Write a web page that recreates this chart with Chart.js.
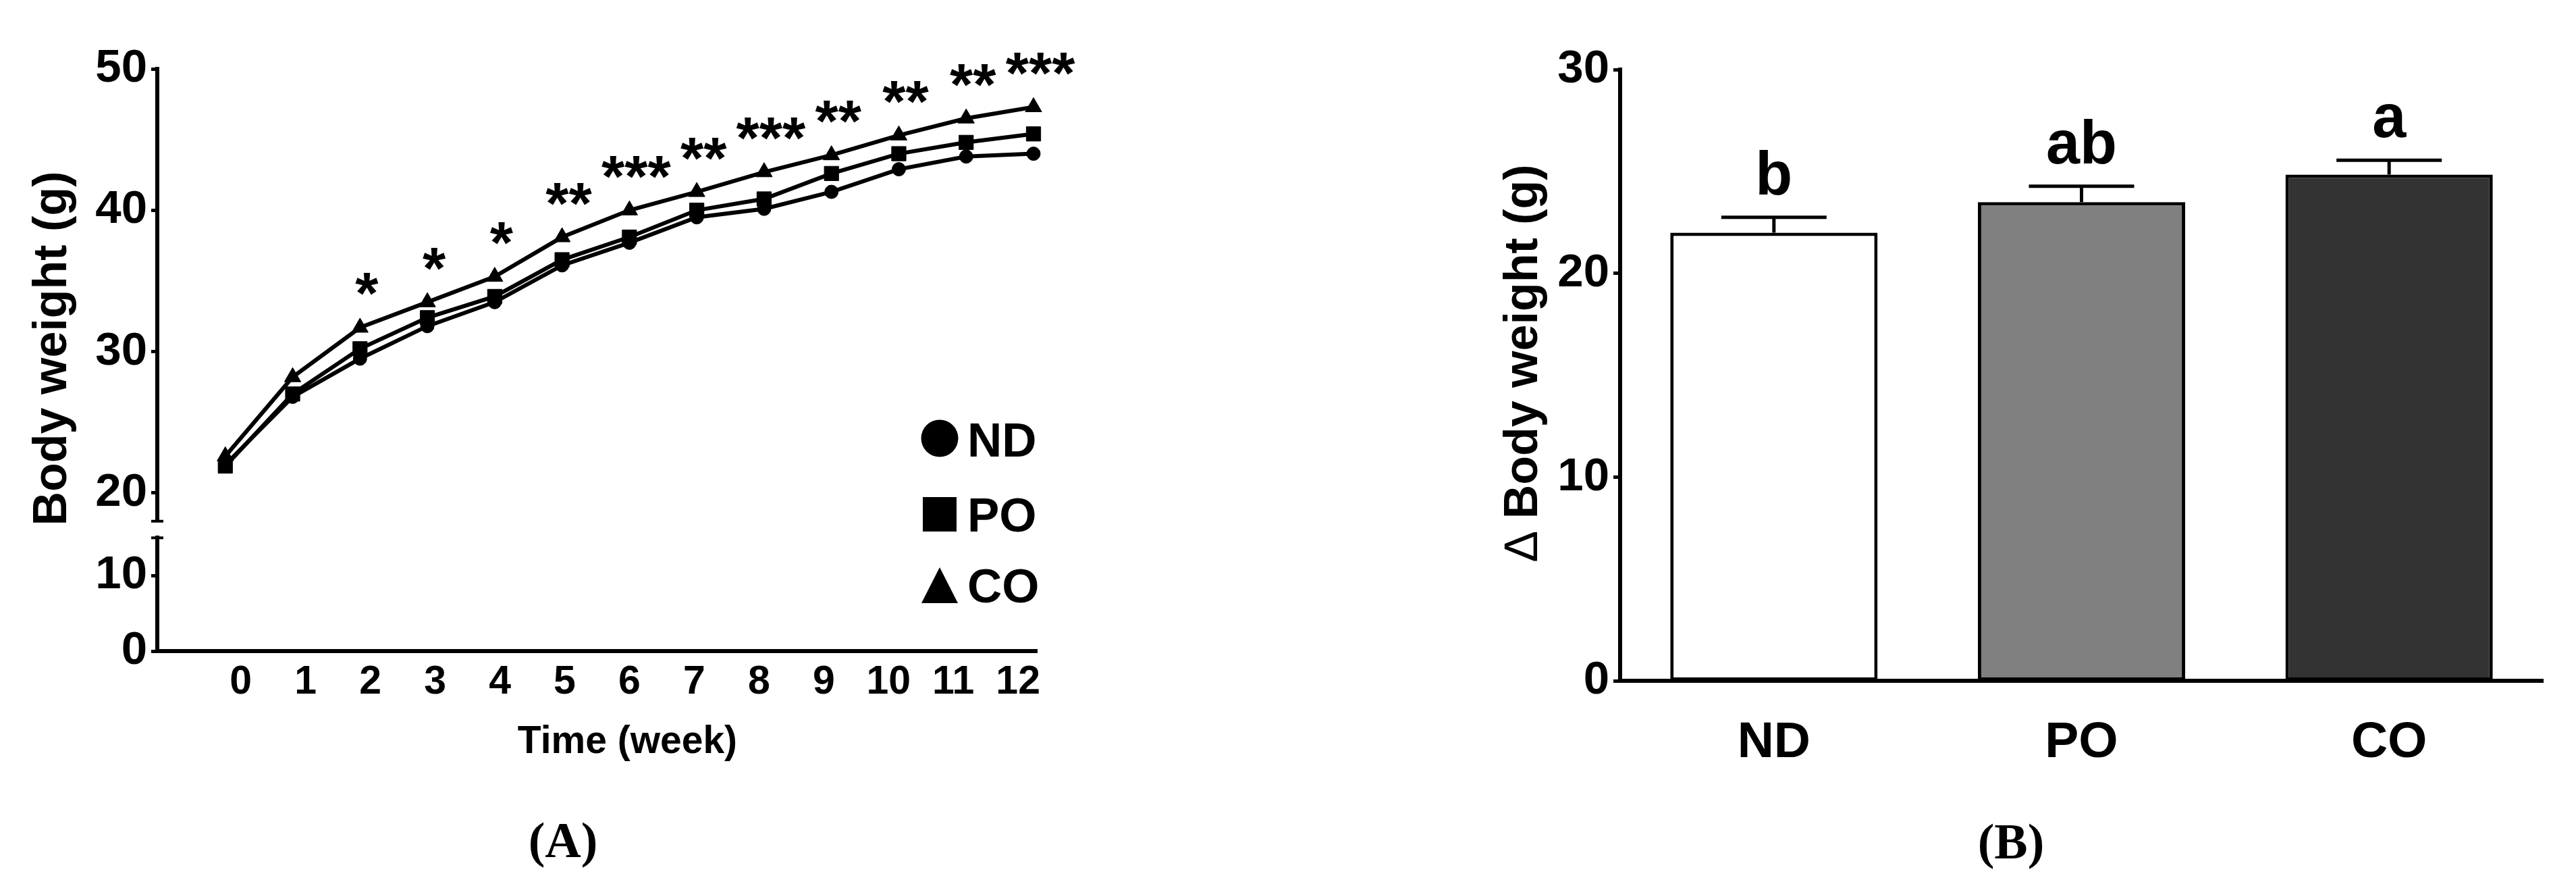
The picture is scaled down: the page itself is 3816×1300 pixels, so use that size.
<!DOCTYPE html>
<html>
<head>
<meta charset="utf-8">
<script src="https://cdn.jsdelivr.net/npm/chart.js@4.4.0/dist/chart.umd.min.js"></script>
<style>
  html, body { margin: 0; padding: 0; background: #fff; }
  body { width: 3816px; height: 1300px; position: relative; overflow: hidden; }
  canvas { position: absolute; top: 0; }
  #chartA { left: 0; }
  #chartB { left: 1900px; }
  .panel {
    position: absolute; width: 300px; text-align: center;
    font: bold 74px "Liberation Serif", "Times New Roman", serif; line-height: 74px;
  }
</style>
</head>
<body>
<canvas id="chartA" width="1680" height="1300" style="width:1680px;height:1300px"></canvas>
<canvas id="chartB" width="1916" height="1300" style="width:1916px;height:1300px"></canvas>
<div class="panel" style="left:684px;top:1207px">(A)</div>
<div class="panel" style="left:2829px;top:1209px">(B)</div>
<script>
const FONT = '"Liberation Sans", Arial, Helvetica, sans-serif';

// panel A: body weight per week
const weeks = [0, 1, 2, 3, 4, 5, 6, 7, 8, 9, 10, 11, 12];
const ndWeight = [22.0, 26.8, 29.5, 31.8, 33.5, 36.1, 37.7, 39.5, 40.1, 41.3, 42.9, 43.8, 44.0];
const poWeight = [21.9, 27.0, 30.2, 32.4, 33.9, 36.5, 38.1, 40.0, 40.8, 42.6, 44.0, 44.8, 45.4];
const coWeight = [22.6, 28.2, 31.7, 33.5, 35.3, 38.1, 40.0, 41.3, 42.7, 43.9, 45.3, 46.5, 47.3];
const sigMarks = ['', '', '*', '*', '*', '**', '***', '**', '***', '**', '**', '**', '***'];
const weightTicksHigh = [20, 30, 40, 50];
const weightTicksLow = [0, 10];

// panel B: body weight gain
const groups = ['ND', 'PO', 'CO'];
const gainMean = [22.0, 23.5, 24.85];
const gainSem = [0.75, 0.78, 0.7];
const gainLetters = ['b', 'ab', 'a'];
const gainTicks = [0, 10, 20, 30];

const tickFont = size => ({ family: FONT, size: size, weight: 'bold' });

// break caps, asterisks, legend and axis titles for panel A
const panelAExtras = {
  id: 'panelAExtras',
  afterDraw(chart) {
    const { ctx, scales, chartArea } = chart;
    const ax = chartArea.left;
    ctx.save();
    ctx.strokeStyle = '#000';
    ctx.fillStyle = '#000';

    // caps at the axis break
    ctx.lineWidth = 4;
    [scales.yHigh.bottom, scales.yLow.top].forEach(y => {
      ctx.beginPath();
      ctx.moveTo(ax - 9, y);
      ctx.lineTo(ax + 9, y);
      ctx.stroke();
    });

    // significance marks above the CO line
    ctx.font = 'bold 88px ' + FONT;
    ctx.textAlign = 'center';
    ctx.textBaseline = 'alphabetic';
    sigMarks.forEach((s, i) => {
      if (!s) return;
      const m = ctx.measureText(s);
      const x = scales.x.getPixelForValue(weeks[i]) + 10;
      const cy = scales.yHigh.getPixelForValue(coWeight[i]) - 64;
      ctx.fillText(s, x, cy + (m.actualBoundingBoxAscent - m.actualBoundingBoxDescent) / 2);
    });

    // legend
    const mx = chartArea.right - 144;
    const tx = chartArea.right - 103;
    const rowY = [chartArea.bottom - 313, chartArea.bottom - 202, chartArea.bottom - 97];
    ctx.beginPath();
    ctx.arc(mx, rowY[0] - 2, 27.5, 0, Math.PI * 2);
    ctx.fill();
    ctx.fillRect(mx - 25, rowY[1] - 26, 50, 51);
    ctx.beginPath();
    ctx.moveTo(mx, rowY[2] - 27);
    ctx.lineTo(mx + 27, rowY[2] + 26);
    ctx.lineTo(mx - 27, rowY[2] + 26);
    ctx.closePath();
    ctx.fill();
    ctx.font = 'bold 71px ' + FONT;
    ctx.textAlign = 'left';
    ['ND', 'PO', 'CO'].forEach((t, i) => ctx.fillText(t, tx, rowY[i] + 25));

    // axis titles
    ctx.textAlign = 'center';
    ctx.font = 'bold 57px ' + FONT;
    const lab = scales.xLabels;
    const midX = (lab.getPixelForValue(weeks[0]) + lab.getPixelForValue(weeks[weeks.length - 1])) / 2;
    ctx.fillText('Time (week)', midX - 3, 1115);
    ctx.translate(98, 516);
    ctx.rotate(-Math.PI / 2);
    ctx.font = 'bold 70px ' + FONT;
    ctx.fillText('Body weight (g)', 0, 0);
    ctx.restore();
  }
};

const lineSet = (label, values, style, radius) => ({
  label: label,
  data: weeks.map((w, i) => ({ x: w, y: values[i] })),
  yAxisID: 'yHigh',
  borderColor: '#000',
  borderWidth: 6,
  pointStyle: style,
  pointRadius: radius,
  pointBackgroundColor: '#000',
  pointBorderColor: '#000',
  pointBorderWidth: 1,
  tension: 0,
  clip: false
});

const yAxisBase = {
  type: 'linear',
  position: 'left',
  stack: 'weight',
  ticks: { font: tickFont(69), color: '#000', padding: 6 },
  grid: { drawOnChartArea: false, tickLength: 9, tickWidth: 5, tickColor: '#000' },
  border: { color: '#000', width: 6 },
  afterFit: s => { s.width = 233; }
};

new Chart(document.getElementById('chartA'), {
  type: 'line',
  data: {
    datasets: [
      lineSet('ND', ndWeight, 'circle', 10),
      lineSet('PO', poWeight, 'rect', 15),
      lineSet('CO', coWeight, 'triangle', 14)
    ]
  },
  options: {
    responsive: false,
    animation: false,
    devicePixelRatio: 1,
    layout: { padding: { left: 0, top: 102, right: 144, bottom: 0 } },
    plugins: { legend: { display: false }, tooltip: { enabled: false } },
    scales: {
      // data axis: carries the line, labels sit on their own axis below
      x: {
        type: 'linear',
        min: -1.01,
        max: 12.05,
        ticks: { display: false },
        grid: { display: false, drawTicks: false },
        border: { color: '#000', width: 6 },
        afterFit: s => { s.height = 0; }
      },
      xLabels: {
        type: 'linear',
        position: 'bottom',
        min: -1.29,
        max: 12.29,
        afterBuildTicks: s => { s.ticks = weeks.map(v => ({ value: v })); },
        ticks: { font: tickFont(59), color: '#000', padding: 11, autoSkip: false, maxRotation: 0 },
        grid: { display: false, drawTicks: false },
        border: { display: false },
        afterFit: s => { s.height = 336; }
      },
      yLow: Object.assign({}, yAxisBase, {
        min: 0, max: 15, stackWeight: 167.6,
        afterBuildTicks: s => { s.ticks = weightTicksLow.map(v => ({ value: v })); }
      }),
      yGap: {
        type: 'linear', position: 'left', stack: 'weight', stackWeight: 24.6,
        min: 0, max: 1,
        ticks: { display: false },
        grid: { display: false, drawTicks: false },
        border: { display: false },
        afterFit: s => { s.width = 233; }
      },
      yHigh: Object.assign({}, yAxisBase, {
        min: 18, max: 50, stackWeight: 669.4,
        afterBuildTicks: s => { s.ticks = weightTicksHigh.map(v => ({ value: v })); }
      })
    }
  },
  plugins: [panelAExtras]
});

// error bars, letters and y title for panel B
const panelBExtras = {
  id: 'panelBExtras',
  afterDatasetsDraw(chart) {
    const { ctx, scales } = chart;
    const meta = chart.getDatasetMeta(0);
    ctx.save();
    ctx.strokeStyle = '#000';
    ctx.fillStyle = '#000';
    ctx.lineWidth = 5;
    ctx.font = 'bold 90px ' + FONT;
    ctx.textAlign = 'center';
    ctx.textBaseline = 'alphabetic';
    meta.data.forEach((bar, i) => {
      const top = scales.y.getPixelForValue(gainMean[i] + gainSem[i]);
      const half = bar.width * 0.254;
      ctx.beginPath();
      ctx.moveTo(bar.x, bar.y);
      ctx.lineTo(bar.x, top);
      ctx.moveTo(bar.x - half, top);
      ctx.lineTo(bar.x + half, top);
      ctx.stroke();
      ctx.fillText(gainLetters[i], bar.x, top - 34);
    });
    ctx.restore();
  },
  afterDraw(chart) {
    const ctx = chart.ctx;
    ctx.save();
    ctx.fillStyle = '#000';
    ctx.textBaseline = 'alphabetic';
    ctx.textAlign = 'left';
    const delta = '\u2206';
    const rest = ' Body weight (g)';
    ctx.font = '70px ' + FONT;
    const w1 = ctx.measureText(delta).width;
    ctx.font = 'bold 70px ' + FONT;
    const w2 = ctx.measureText(rest).width;
    ctx.translate(377, 537);
    ctx.rotate(-Math.PI / 2);
    const start = -(w1 + w2) / 2;
    ctx.font = '70px ' + FONT;
    ctx.fillText(delta, start, 0);
    ctx.font = 'bold 70px ' + FONT;
    ctx.fillText(rest, start + w1, 0);
    ctx.restore();
  }
};

new Chart(document.getElementById('chartB'), {
  type: 'bar',
  data: {
    labels: groups,
    datasets: [{
      data: gainMean,
      backgroundColor: ['#ffffff', '#808080', '#333333'],
      borderColor: '#000',
      borderWidth: 5,
      borderSkipped: false,
      barPercentage: 0.674,
      categoryPercentage: 1
    }]
  },
  options: {
    responsive: false,
    animation: false,
    devicePixelRatio: 1,
    layout: { padding: { left: 0, top: 103, right: 49, bottom: 0 } },
    plugins: { legend: { display: false }, tooltip: { enabled: false } },
    scales: {
      x: {
        ticks: { font: tickFont(75), color: '#000', padding: 47 },
        grid: { display: false, drawTicks: false },
        border: { color: '#000', width: 6 },
        afterFit: s => { s.height = 291.6; }
      },
      y: {
        min: 0,
        max: 30,
        afterBuildTicks: s => { s.ticks = gainTicks.map(v => ({ value: v })); },
        ticks: { font: tickFont(69), color: '#000', padding: 6 },
        grid: { drawOnChartArea: false, tickLength: 10, tickWidth: 5, tickColor: '#000' },
        border: { color: '#000', width: 6 },
        afterFit: s => { s.width = 500; }
      }
    }
  },
  plugins: [panelBExtras]
});
</script>
</body>
</html>
